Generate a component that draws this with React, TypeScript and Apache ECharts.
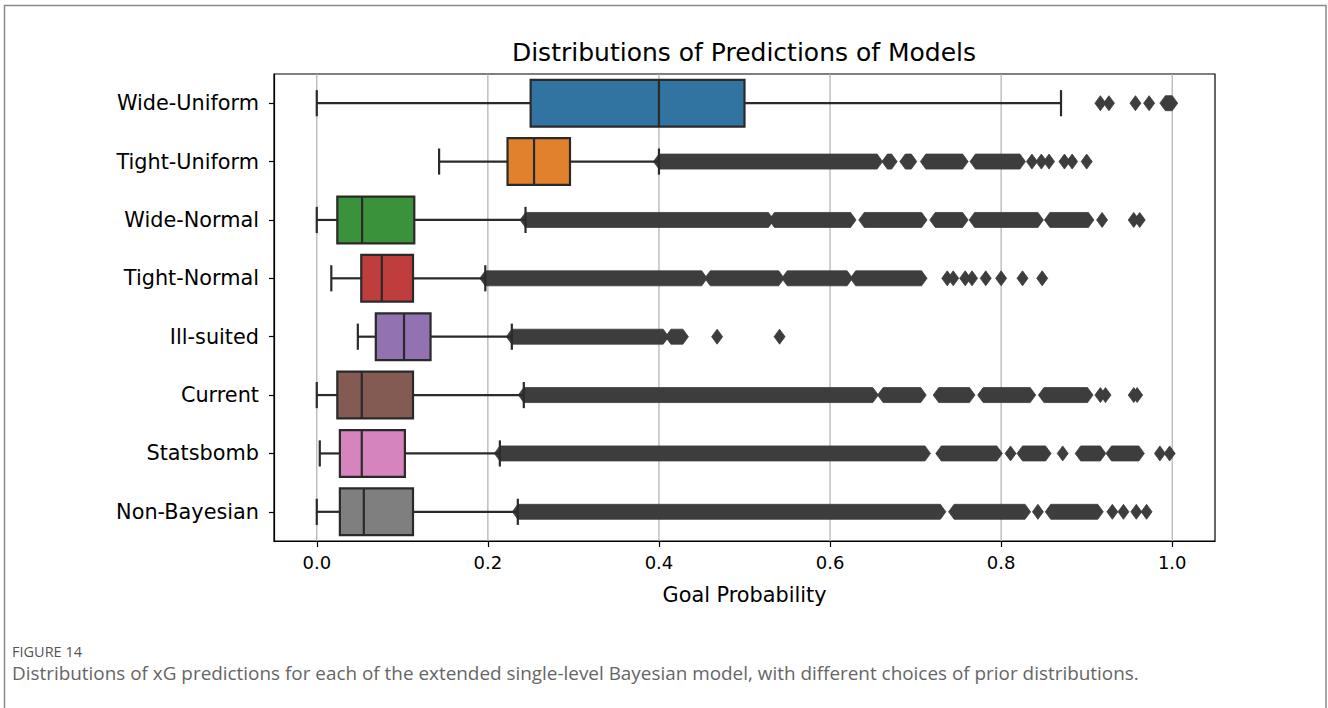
import React, { useEffect, useRef } from "react";
import * as echarts from "echarts";

const models = [
  "Wide-Uniform",
  "Tight-Uniform",
  "Wide-Normal",
  "Tight-Normal",
  "Ill-suited",
  "Current",
  "Statsbomb",
  "Non-Bayesian",
];
const boxColors = ["#3274a1", "#e1812c", "#3a923a", "#c03d3e", "#9372b2", "#845b53", "#d684bd", "#7f7f7f"];

const lowWhisker = [0.0, 0.143, 0.0, 0.017, 0.048, 0.0, 0.0035, 0.0];
const q1 = [0.25, 0.223, 0.024, 0.052, 0.069, 0.024, 0.027, 0.027];
const median = [0.4, 0.254, 0.053, 0.076, 0.102, 0.0526, 0.0526, 0.055];
const q3 = [0.5, 0.296, 0.114, 0.1125, 0.133, 0.1125, 0.103, 0.1125];
const highWhisker = [0.87, 0.4, 0.244, 0.197, 0.228, 0.242, 0.214, 0.235];

// runs of overlapping outlier markers (start centre, end centre)
const outlierRuns: number[][][] = [
  [[0.992, 1.0]],
  [[0.4, 0.655], [0.667, 0.672], [0.688, 0.695], [0.712, 0.755], [0.77, 0.822]],
  [[0.244, 0.528], [0.535, 0.624], [0.64, 0.707], [0.723, 0.755], [0.769, 0.843], [0.857, 0.902]],
  [[0.197, 0.45], [0.46, 0.54], [0.55, 0.62], [0.63, 0.707]],
  [[0.228, 0.405], [0.414, 0.428]],
  [[0.242, 0.65], [0.662, 0.706], [0.727, 0.763], [0.779, 0.834], [0.85, 0.901]],
  [[0.214, 0.711], [0.73, 0.795], [0.825, 0.852], [0.893, 0.916], [0.929, 0.961]],
  [[0.235, 0.729], [0.745, 0.828], [0.858, 0.913]],
];
// isolated outlier markers
const outlierPoints: number[][] = [
  [0.916, 0.926, 0.957, 0.973],
  [0.836, 0.847, 0.856, 0.874, 0.883, 0.9],
  [0.918, 0.955, 0.962],
  [0.737, 0.744, 0.758, 0.766, 0.782, 0.8, 0.825, 0.848],
  [0.468, 0.541],
  [0.916, 0.922, 0.955, 0.959],
  [0.811, 0.872, 0.9856, 0.997],
  [0.843, 0.93, 0.943, 0.958, 0.97],
];

const xTicks = [0, 0.2, 0.4, 0.6, 0.8, 1.0];
const xMin = -0.05;
const xMax = 1.05;

const titleText = "Distributions of Predictions of Models";
const xAxisName = "Goal Probability";
const figureLabel = "FIGURE 14";
const captionText =
  "Distributions of xG predictions for each of the extended single-level Bayesian model, with different choices of prior distributions.";

const LINE = "#2a2a2a";
const FLIER = "#3d3d3d";
const FONT = "DejaVu Sans";

export default function App() {
  const ref = useRef<HTMLDivElement>(null);

  useEffect(() => {
    if (!ref.current) return;
    const chart = echarts.init(ref.current, null, { renderer: "svg" });

    const boxData = models.map((m, i) => [i, lowWhisker[i], q1[i], median[i], q3[i], highWhisker[i]]);
    const runData: number[][] = [];
    outlierRuns.forEach((runs, i) => runs.forEach((r) => runData.push([i, r[0], r[1]])));
    const pointData: number[][] = [];
    outlierPoints.forEach((pts, i) => pts.forEach((v) => pointData.push([v, i])));

    const DW = 5.5; // half width of a diamond marker
    const DH = 7.5; // half height of a diamond marker

    const option: any = {
      animation: false,
      backgroundColor: "#ffffff",
      grid: {
        left: 274,
        right: 113,
        top: 74,
        bottom: 167,
        show: true,
        borderColor: "#000",
        borderWidth: 1.2,
        backgroundColor: "transparent",
      },
      xAxis: {
        type: "value",
        min: xMin,
        max: xMax,
        axisLine: { show: true, onZero: false, lineStyle: { color: "#000", width: 1.2 } },
        axisTick: { show: true, customValues: xTicks, length: 6, lineStyle: { color: "#000", width: 1.2 } },
        axisLabel: {
          customValues: xTicks,
          formatter: (v: number) => v.toFixed(1),
          fontSize: 18,
          fontFamily: FONT,
          color: "#000",
          margin: 12,
        },
        splitLine: { show: false },
        name: xAxisName,
        nameLocation: "middle",
        nameGap: 43,
        nameTextStyle: { fontSize: 20.8, fontFamily: FONT, color: "#000" },
      },
      yAxis: {
        type: "category",
        data: models,
        inverse: true,
        axisLine: { show: true, onZero: false, lineStyle: { color: "#000", width: 1.2 } },
        axisTick: { show: true, alignWithLabel: true, length: 5, lineStyle: { color: "#000", width: 1.2 } },
        axisLabel: { fontSize: 20.8, fontFamily: FONT, color: "#000", margin: 15 },
        splitLine: { show: false },
      },
      graphic: [
        {
          type: "rect",
          shape: { x: 4.5, y: 5.5, width: 1321.5, height: 760 },
          style: { fill: "none", stroke: "#8a8a8a", lineWidth: 1.5 },
          silent: true,
          z: -10,
        },
        {
          type: "text",
          x: 744,
          y: 52,
          style: {
            text: titleText,
            fontSize: 25,
            fontFamily: FONT,
            fill: "#000",
            textAlign: "center",
            textVerticalAlign: "middle",
          },
        },
        {
          type: "text",
          x: 12,
          y: 651,
          style: {
            text: figureLabel,
            fontSize: 14.5,
            fontFamily: "Open Sans",
            fill: "#555",
            textAlign: "left",
            textVerticalAlign: "middle",
          },
        },
        {
          type: "text",
          x: 12,
          y: 673,
          style: {
            text: captionText,
            fontSize: 18.9,
            fontFamily: "Open Sans",
            fill: "#666",
            textAlign: "left",
            textVerticalAlign: "middle",
          },
        },
      ],
      series: [
        {
          type: "custom",
          name: "grid",
          silent: true,
          z: 0,
          data: xTicks.map((v) => [v, 0]),
          encode: { x: 0, y: 1 },
          renderItem: (params: any, api: any) => {
            const p = api.coord([api.value(0), 0]);
            const cs = params.coordSys;
            return {
              type: "line",
              shape: { x1: p[0], y1: cs.y, x2: p[0], y2: cs.y + cs.height },
              style: { stroke: "#b0b0b0", lineWidth: 1.2 },
            };
          },
        },
        {
          type: "custom",
          name: "boxes",
          z: 3,
          data: boxData,
          encode: { x: [1, 2, 3, 4, 5], y: 0 },
          renderItem: (params: any, api: any) => {
            const c = api.value(0);
            const pts = [1, 2, 3, 4, 5].map((k) => api.coord([api.value(k), c]));
            const band = api.size([0, 1])[1];
            const h = band * 0.8;
            const cap = h * 0.56;
            const yc = pts[0][1];
            const color = boxColors[params.dataIndex];
            const ls = { stroke: LINE, lineWidth: 2.2 };
            return {
              type: "group",
              children: [
                { type: "line", shape: { x1: pts[0][0], y1: yc, x2: pts[1][0], y2: yc }, style: ls },
                { type: "line", shape: { x1: pts[3][0], y1: yc, x2: pts[4][0], y2: yc }, style: ls },
                { type: "line", shape: { x1: pts[0][0], y1: yc - cap / 2, x2: pts[0][0], y2: yc + cap / 2 }, style: ls },
                { type: "line", shape: { x1: pts[4][0], y1: yc - cap / 2, x2: pts[4][0], y2: yc + cap / 2 }, style: ls },
                {
                  type: "rect",
                  shape: { x: pts[1][0], y: yc - h / 2, width: pts[3][0] - pts[1][0], height: h },
                  style: { fill: color, stroke: LINE, lineWidth: 2.2 },
                },
                { type: "line", shape: { x1: pts[2][0], y1: yc - h / 2, x2: pts[2][0], y2: yc + h / 2 }, style: ls },
              ],
            };
          },
        },
        {
          type: "custom",
          name: "flierRuns",
          z: 2,
          data: runData,
          encode: { x: [1, 2], y: 0 },
          renderItem: (params: any, api: any) => {
            const c = api.value(0);
            const a = api.coord([api.value(1), c]);
            const b = api.coord([api.value(2), c]);
            const y = a[1];
            return {
              type: "polygon",
              shape: {
                points: [
                  [a[0] - DW, y],
                  [a[0], y - DH],
                  [b[0], y - DH],
                  [b[0] + DW, y],
                  [b[0], y + DH],
                  [a[0], y + DH],
                ],
              },
              style: { fill: FLIER, stroke: FLIER, lineWidth: 0.8 },
            };
          },
        },
        {
          type: "scatter",
          name: "fliers",
          z: 2,
          symbol: "diamond",
          symbolSize: [DW * 2, DH * 2],
          itemStyle: { color: FLIER, borderColor: FLIER, borderWidth: 0.8, opacity: 1 },
          data: pointData,
        },
      ],
    };

    chart.setOption(option);
    return () => chart.dispose();
  }, []);

  return (
    <div
      ref={ref}
      style={{ position: "fixed", left: 0, top: 0, width: 1328, height: 708, background: "#fff" }}
    />
  );
}
